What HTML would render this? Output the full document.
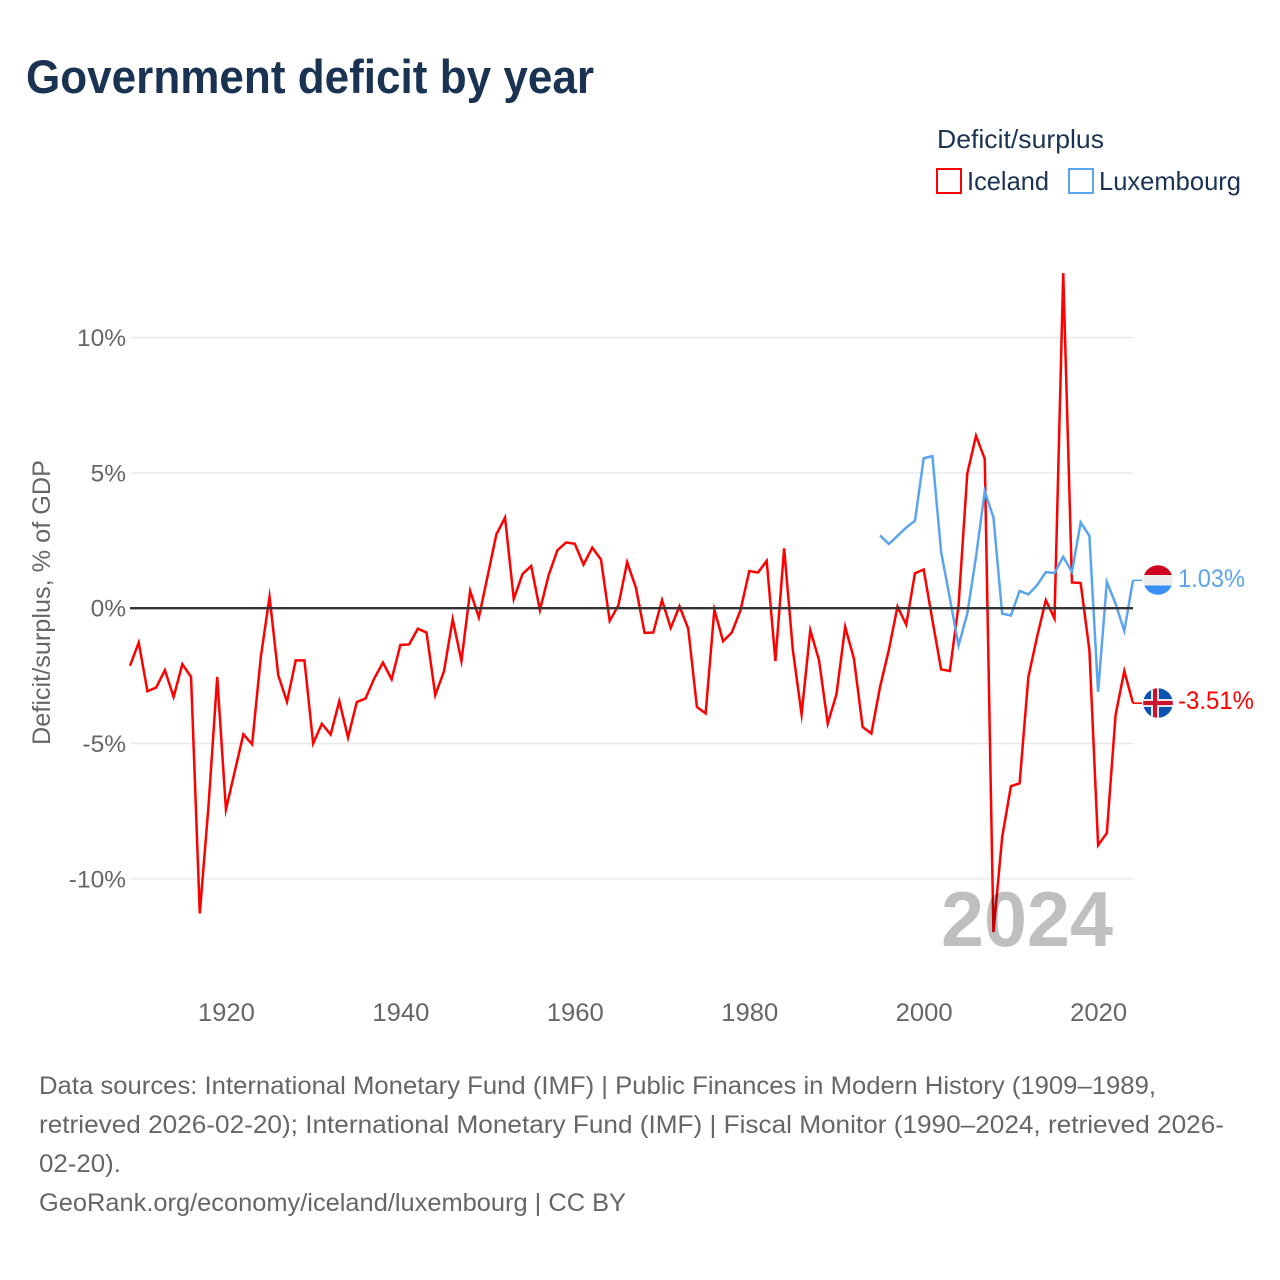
<!DOCTYPE html>
<html lang="en">
<head>
<meta charset="utf-8">
<title>Government deficit by year</title>
<style>
html,body{margin:0;padding:0;background:#fff;width:1280px;height:1280px;overflow:hidden}
svg{display:block}
text{font-family:"Liberation Sans",sans-serif}
</style>
</head>
<body>
<svg id="chart" xmlns="http://www.w3.org/2000/svg" width="1280" height="1280" viewBox="0 0 1280 1280">
  <defs>
    <clipPath id="flag-clip-lu"><circle cx="1158" cy="580" r="14.8"/></clipPath>
    <clipPath id="flag-clip-is"><circle cx="1158" cy="703" r="14.8"/></clipPath>
  </defs>
  <rect x="0" y="0" width="1280" height="1280" fill="#ffffff"/>
  <text x="26" y="93" font-size="47" font-weight="700" fill="#1a3353" textLength="568" lengthAdjust="spacingAndGlyphs">Government deficit by year</text>

  <text x="937" y="148" font-size="26" fill="#1a3353" textLength="167" lengthAdjust="spacingAndGlyphs">Deficit/surplus</text>
  <g>
    <rect x="937" y="169" width="24" height="24" fill="none" stroke="#ff0000" stroke-width="2"/>
    <text x="967" y="190" font-size="26" fill="#1a3353" textLength="82" lengthAdjust="spacingAndGlyphs">Iceland</text>
  </g>
  <g>
    <rect x="1069" y="169" width="24" height="24" fill="none" stroke="#5ba4ee" stroke-width="2"/>
    <text x="1099" y="190" font-size="26" fill="#1a3353" textLength="142" lengthAdjust="spacingAndGlyphs">Luxembourg</text>
  </g>

  <g id="grid"></g>
  <g id="series"></g>
  <g id="zero"></g>
  <text x="941" y="946" font-size="78" font-weight="700" fill="#000000" fill-opacity="0.25" textLength="172" lengthAdjust="spacingAndGlyphs">2024</text>
  <g id="yticks"></g>
  <g id="xticks"></g>

  <text transform="translate(50,745) rotate(-90)" x="0" y="0" font-size="25" fill="#666666" textLength="285" lengthAdjust="spacingAndGlyphs">Deficit/surplus, % of GDP</text>

  <g clip-path="url(#flag-clip-lu)">
    <rect x="1143" y="565" width="30" height="10" fill="#d0021f"/>
    <rect x="1143" y="575" width="30" height="10.5" fill="#eeeeee"/>
    <rect x="1143" y="585.5" width="30" height="10" fill="#3a8ff5"/>
  </g>
  <text x="1178" y="587" font-size="25" fill="#5ba4ee" textLength="67" lengthAdjust="spacingAndGlyphs">1.03%</text>

  <g clip-path="url(#flag-clip-is)">
    <rect x="1143" y="688" width="30" height="30" fill="#0a52b4"/>
    <rect x="1143" y="699" width="30" height="8" fill="#e8e8e8"/>
    <rect x="1151" y="688" width="8" height="30" fill="#e8e8e8"/>
    <rect x="1143" y="701" width="30" height="4" fill="#d0112b"/>
    <rect x="1153" y="688" width="4" height="30" fill="#d0112b"/>
  </g>
  <text x="1178" y="709" font-size="25" fill="#ff0000" textLength="76" lengthAdjust="spacingAndGlyphs">-3.51%</text>

  <g font-size="25" fill="#666666">
    <text x="39" y="1094" textLength="1117" lengthAdjust="spacingAndGlyphs">Data sources: International Monetary Fund (IMF) | Public Finances in Modern History (1909–1989,</text>
    <text x="39" y="1133" textLength="1185" lengthAdjust="spacingAndGlyphs">retrieved 2026-02-20); International Monetary Fund (IMF) | Fiscal Monitor (1990–2024, retrieved 2026-</text>
    <text x="39" y="1172" textLength="82" lengthAdjust="spacingAndGlyphs">02-20).</text>
    <text x="39" y="1211" textLength="587" lengthAdjust="spacingAndGlyphs">GeoRank.org/economy/iceland/luxembourg | CC BY</text>
  </g>
</svg>
<script>
const icelandStartYear = 1909;
const icelandValues = [
-2.13,-1.27,-3.07,-2.93,-2.29,-3.28,-2.07,-2.54,-11.28,-7.31,
-2.54,-7.44,-6.05,-4.66,-5.03,-1.80,0.42,-2.48,-3.46,-1.93,
-1.93,-5.00,-4.27,-4.67,-3.43,-4.78,-3.47,-3.34,-2.60,-2.01,
-2.63,-1.36,-1.34,-0.76,-0.90,-3.21,-2.33,-0.41,-1.95,0.64,
-0.34,1.18,2.72,3.35,0.34,1.26,1.56,-0.07,1.22,2.14,
2.43,2.38,1.61,2.24,1.80,-0.47,0.11,1.70,0.76,-0.91,
-0.90,0.30,-0.73,0.07,-0.75,-3.65,-3.89,-0.05,-1.22,-0.90,
-0.07,1.37,1.32,1.75,-1.95,2.21,-1.55,-3.92,-0.81,-1.92,
-4.26,-3.18,-0.69,-1.86,-4.39,-4.63,-2.91,-1.55,0.06,-0.61,
1.29,1.43,-0.44,-2.26,-2.32,0.11,4.98,6.37,5.52,-11.97,
-8.46,-6.58,-6.47,-2.55,-1.06,0.30,-0.38,12.38,0.95,0.93,
-1.55,-8.76,-8.31,-3.95,-2.32,-3.51
];
const luxembourgStartYear = 1995;
const luxembourgValues = [
2.69,2.37,2.67,2.98,3.23,5.54,5.62,2.08,0.37,-1.38,
-0.20,1.90,4.32,3.35,-0.20,-0.27,0.64,0.51,0.85,1.33,
1.30,1.90,1.34,3.17,2.67,-3.09,0.97,0.17,-0.84,1.03
];
const yTickValues = [10, 5, 0, -5, -10];
const yTickLabels = ["10%", "5%", "0%", "-5%", "-10%"];
const xTickValues = [1920, 1940, 1960, 1980, 2000, 2020];

const NS = "http://www.w3.org/2000/svg";
const plotLeft = 130, plotRight = 1133;
function xScale(year) { return plotLeft + (year - 1909) * (plotRight - plotLeft) / (2024 - 1909); }
function yScale(v) { return 608.2 - v * 27.06; }
function make(tag, attrs, parent) {
  const el = document.createElementNS(NS, tag);
  for (const k in attrs) el.setAttribute(k, attrs[k]);
  parent.appendChild(el);
  return el;
}
const gridG = document.getElementById("grid");
const zeroG = document.getElementById("zero");
const yG = document.getElementById("yticks");
const xG = document.getElementById("xticks");
const seriesG = document.getElementById("series");

yTickValues.forEach(function (v, i) {
  const y = yScale(v);
  const line = make("line", { x1: plotLeft, x2: plotRight, y1: y, y2: y,
    stroke: v === 0 ? "#333333" : "#e8e8e8", "stroke-width": v === 0 ? 2.4 : 1.4 }, v === 0 ? zeroG : gridG);
  
  
  const t = make("text", { x: 126, y: y + 8.5, "text-anchor": "end", "font-size": 24.5, fill: "#666666" }, yG);
  t.textContent = yTickLabels[i];
  
  
});
xTickValues.forEach(function (year) {
  const t = make("text", { x: xScale(year) + 0.5, y: 1021, "text-anchor": "middle", "font-size": 25, fill: "#666666",
    textLength: 57, lengthAdjust: "spacingAndGlyphs" }, xG);
  t.textContent = String(year);
  
  
});
function seriesPoints(values, startYear) {
  return values.map(function (v, i) { return xScale(startYear + i).toFixed(2) + "," + yScale(v).toFixed(2); });
}
function drawSeries(values, startYear, color, flagEdge, name) {
  const pts = seriesPoints(values, startYear);
  const path = make("polyline", { points: pts.join(" "), fill: "none", stroke: color, "stroke-width": 2.5,
    "stroke-linejoin": "miter", "stroke-miterlimit": 10 }, seriesG);
  
  
  const lastY = yScale(values[values.length - 1]);
  const conn = make("line", { x1: plotRight, x2: flagEdge, y1: lastY, y2: lastY, stroke: color, "stroke-width": 1.6 }, seriesG);
  
  
}
drawSeries(icelandValues, icelandStartYear, "#ff0000", 1142, "iceland");
drawSeries(luxembourgValues, luxembourgStartYear, "#5ba4ee", 1142, "luxembourg");
</script>
</body>
</html>
